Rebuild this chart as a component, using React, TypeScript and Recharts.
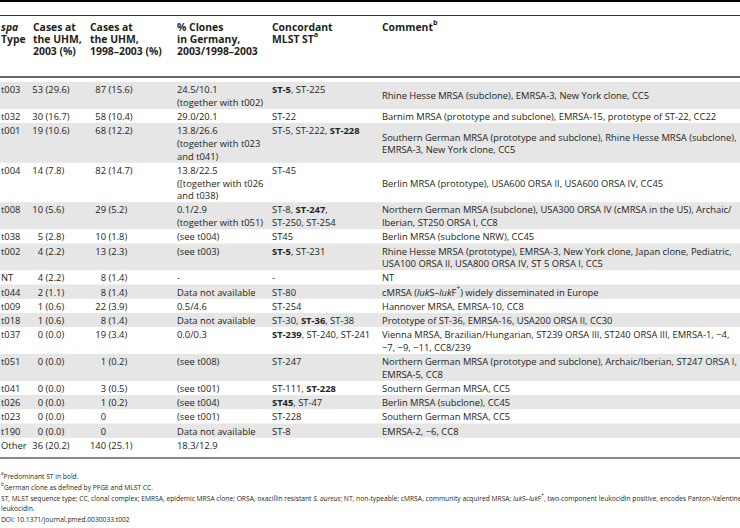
import React from "react";
import {
  ScatterChart,
  Scatter,
  XAxis,
  YAxis,
  ReferenceArea,
  ReferenceLine,
} from "recharts";

// table content, one entry per spa type
const spaTypes = ["t003", "t032", "t001", "t004", "t008", "t038", "t002", "NT", "t044", "t009", "t018", "t037", "t051", "t041", "t026", "t023", "t190", "Other"];
const cases2003 = [53, 30, 19, 14, 10, 5, 4, 4, 2, 1, 1, 0, 0, 0, 0, 0, 0, 36];
const pct2003 = ["29.6", "16.7", "10.6", "7.8", "5.6", "2.8", "2.2", "2.2", "1.1", "0.6", "0.6", "0.0", "0.0", "0.0", "0.0", "0.0", "0.0", "20.2"];
const cases9803 = [87, 58, 68, 82, 29, 10, 13, 8, 8, 22, 8, 19, 1, 3, 1, 0, 0, 140];
const pct9803 = ["15.6", "10.4", "12.2", "14.7", "5.2", "1.8", "2.3", "1.4", "1.4", "3.9", "1.4", "3.4", "0.2", "0.5", "0.2", "", "", "25.1"];
const clonesGermany = [
  ["24.5/10.1", "(together with t002)"],
  ["29.0/20.1"],
  ["13.8/26.6", "(together with t023", "and t041)"],
  ["13.8/22.5", "([together with t026", "and t038)"],
  ["0.1/2.9", "(together with t051)"],
  ["(see t004)"],
  ["(see t003)"],
  ["-"],
  ["Data not available"],
  ["0.5/4.6"],
  ["Data not available"],
  ["0.0/0.3"],
  ["(see t008)"],
  ["(see t001)"],
  ["(see t004)"],
  ["(see t001)"],
  ["Data not available"],
  ["18.3/12.9"],
];
const mlstST = [
  ["**ST-5**, ST-225"],
  ["ST-22"],
  ["ST-5, ST-222, **ST-228**"],
  ["ST-45"],
  ["ST-8, **ST-247**,", "ST-250, ST-254"],
  ["ST45"],
  ["**ST-5**, ST-231"],
  ["-"],
  ["ST-80"],
  ["ST-254"],
  ["ST-30, **ST-36**, ST-38"],
  ["**ST-239**, ST-240, ST-241"],
  ["ST-247"],
  ["ST-111, **ST-228**"],
  ["**ST45**, ST-47"],
  ["ST-228"],
  ["ST-8"],
  [],
];
const comments = [
  ["Rhine Hesse MRSA (subclone), EMRSA-3, New York clone, CC5"],
  ["Barnim MRSA (prototype and subclone), EMRSA-15, prototype of ST-22, CC22"],
  ["Southern German MRSA (prototype and subclone), Rhine Hesse MRSA (subclone),", "EMRSA-3, New York clone, CC5"],
  ["Berlin MRSA (prototype), USA600 ORSA II, USA600 ORSA IV, CC45"],
  ["Northern German MRSA (subclone), USA300 ORSA IV (cMRSA in the US), Archaic/", "Iberian, ST250 ORSA I, CC8"],
  ["Berlin MRSA (subclone NRW), CC45"],
  ["Rhine Hesse MRSA (prototype), EMRSA-3, New York clone, Japan clone, Pediatric,", "USA100 ORSA II, USA800 ORSA IV, ST 5 ORSA I, CC5"],
  ["NT"],
  ["cMRSA (_luk_S–_luk_F^+^) widely disseminated in Europe"],
  ["Hannover MRSA, EMRSA-10, CC8"],
  ["Prototype of ST-36, EMRSA-16, USA200 ORSA II, CC30"],
  ["Vienna MRSA, Brazilian/Hungarian, ST239 ORSA III, ST240 ORSA III, EMRSA-1, −4,", "−7, −9, −11, CC8/239"],
  ["Northern German MRSA (prototype and subclone), Archaic/Iberian, ST247 ORSA I,", "EMRSA-5, CC8"],
  ["Southern German MRSA, CC5"],
  ["Berlin MRSA (subclone), CC45"],
  ["Southern German MRSA, CC5"],
  ["EMRSA-2, −6, CC8"],
  [],
];
const headers = [
  ["_spa_", "Type"],
  ["Cases at", "the UHM,", "2003 (%)"],
  ["Cases at", "the UHM,", "1998–2003 (%)"],
  ["% Clones", "in Germany,", "2003/1998–2003"],
  ["Concordant", "MLST ST^a^"],
  ["Comment^b^"],
];
const footnotes = [
  "^a^Predominant ST in bold.",
  "^b^German clone as defined by PFGE and MLST CC.",
  "ST, MLST sequence type; CC, clonal complex; EMRSA, epidemic MRSA clone; ORSA, oxacillin resistant _S. aureus_; NT, non-typeable; cMRSA, community acquired MRSA; _luk_S–_luk_F^+^, two-component leukocidin positive, encodes Panton-Valentine",
  "leukocidin.",
  "DOI: 10.1371/journal.pmed.0030033.t002",
];

const W = 740;
const H = 528;
const FONT = "'Open Sans', 'DejaVu Sans', sans-serif";
const INK = "#231f20";
const HEAD_SIZE = 10.4;
const BODY_SIZE = 9.4;
const NOTE_SIZE = 6.7;

// layout
const headerX = [1, 33, 90, 177, 272, 382];
const headerY0 = 27;
const headerStep = 11.8;
const bodyTop = 82;
const lineH = 12.7;
const rowPad = 1.5;
const noteY0 = 476;
const noteStep = 10.8;

type Cell = {
  x: number;
  y: number;
  text: string;
  anchor?: "start" | "end";
  size?: number;
  bold?: boolean;
};

const rowLines = spaTypes.map((_, i) =>
  Math.max(1, clonesGermany[i].length, mlstST[i].length, comments[i].length)
);
const rowTops: number[] = [];
rowLines.reduce((top, n) => {
  rowTops.push(top);
  return top + n * lineH + rowPad;
}, bodyTop);

const cells: Cell[] = [];
headers.forEach((lines, c) =>
  lines.forEach((t, k) =>
    cells.push({ x: headerX[c], y: headerY0 + k * headerStep, text: t, bold: true, size: HEAD_SIZE })
  )
);
spaTypes.forEach((spa, i) => {
  const y0 = rowTops[i] + rowPad / 2 + lineH / 2;
  const ly = (k: number) => y0 + k * lineH;
  cells.push({ x: 1, y: ly(0), text: spa });
  cells.push({ x: 43, y: ly(0), text: String(cases2003[i]), anchor: "end" });
  cells.push({ x: 45.5, y: ly(0), text: `(${pct2003[i]})` });
  cells.push({ x: 106, y: ly(0), text: String(cases9803[i]), anchor: "end" });
  if (pct9803[i]) cells.push({ x: 108.5, y: ly(0), text: `(${pct9803[i]})` });
  clonesGermany[i].forEach((t, k) => cells.push({ x: 177, y: ly(k), text: t }));
  mlstST[i].forEach((t, k) => cells.push({ x: 272, y: ly(k), text: t }));
  // comment column is centred vertically in the row
  const off = (rowLines[i] - comments[i].length) / 2;
  comments[i].forEach((t, k) => cells.push({ x: 382, y: ly(k + off), text: t }));
});
footnotes.forEach((t, k) =>
  cells.push({ x: 1, y: noteY0 + k * noteStep, text: t, size: NOTE_SIZE })
);

// tiny markup: **bold**, _italic_, ^sup^
function renderRich(text: string, size: number) {
  return text
    .split(/(\*\*[^*]+\*\*|_[^_]+_|\^[^^]+\^)/)
    .filter((s) => s !== "")
    .map((s, i) => {
      if (s.startsWith("**"))
        return (
          <tspan key={i} fontWeight={700}>
            {s.slice(2, -2)}
          </tspan>
        );
      if (s.startsWith("_"))
        return (
          <tspan key={i} fontStyle="italic">
            {s.slice(1, -1)}
          </tspan>
        );
      if (s.startsWith("^"))
        return (
          <tspan key={i} baselineShift="super" fontSize={size * 0.7}>
            {s.slice(1, -1)}
          </tspan>
        );
      return <tspan key={i}>{s}</tspan>;
    });
}

const renderCell = (props: any) => {
  const { cx, cy, payload } = props;
  const size = payload.size ?? BODY_SIZE;
  return (
    <text
      x={cx}
      y={cy}
      dominantBaseline="central"
      textAnchor={payload.anchor ?? "start"}
      fontFamily={FONT}
      fontSize={size}
      fontWeight={payload.bold ? 700 : 400}
      fill={INK}
    >
      {renderRich(payload.text, size)}
    </text>
  );
};

export default function App() {
  const bottom = rowTops[rowTops.length - 1] + rowLines[rowLines.length - 1] * lineH + rowPad;
  return (
    <div style={{ position: "absolute", left: 0, top: 0, background: "#fff" }}>
      <ScatterChart width={W} height={H} margin={{ top: 0, right: 0, bottom: 0, left: 0 }}>
        <XAxis type="number" dataKey="x" domain={[0, W]} allowDataOverflow hide />
        <YAxis type="number" dataKey="y" domain={[0, H]} allowDataOverflow reversed hide />
        {rowTops.map((top, i) =>
          i % 2 === 0 ? (
            <ReferenceArea
              key={spaTypes[i]}
              x1={0}
              x2={W}
              y1={top}
              y2={top + rowLines[i] * lineH + rowPad}
              fill="#e6e6e6"
              fillOpacity={1}
              stroke="none"
            />
          ) : null
        )}
        <ReferenceLine y={1} stroke="#000" strokeWidth={2} />
        <ReferenceLine y={15.5} stroke="#333" strokeWidth={1} />
        <ReferenceLine y={77} stroke="#333" strokeWidth={1.3} />
        <ReferenceLine y={bottom + 6} stroke="#888" strokeWidth={2} />
        <Scatter data={cells} dataKey="y" shape={renderCell} isAnimationActive={false} />
      </ScatterChart>
    </div>
  );
}
